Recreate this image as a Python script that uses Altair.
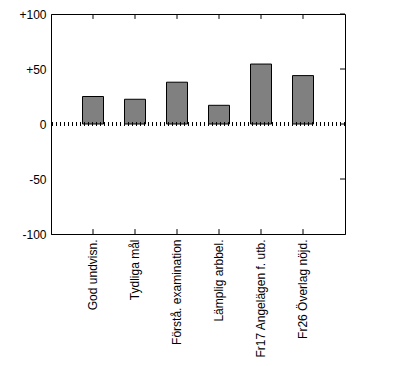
import altair as alt
import pandas as pd

categories = ["God undvisn.", "Tydliga mål", "Förstå. examination",
              "Lämplig arbbel.", "Fr17 Angelägen f. utb.", "Fr26 Överlag nöjd."]
values = [25, 22.5, 38, 17, 54.5, 44]
y_ticks = [-100, -50, 0, 50, 100]
right_ticks = [-50, 0, 50, 100]

df = pd.DataFrame({"cat": categories, "val": values})
df_r = pd.DataFrame({"v": right_ticks})

FONT = "Liberation Sans"
TICK = 4.5  # inward tick length in data units (~5 px)

xscale = alt.Scale(domain=categories, paddingInner=0.5, paddingOuter=0.75)
yscale = alt.Scale(domain=[-100, 100], nice=False, zero=False)

label_expr = "datum.value > 0 ? '+' + datum.value : '' + datum.value"

bars = alt.Chart(df).mark_bar(color="#808080", stroke="black", strokeWidth=1).encode(
    x=alt.X("cat:N", scale=xscale, sort=categories,
            axis=alt.Axis(title=None, labelAngle=270, labelAlign="right", labelBaseline="middle",
                          tickSize=0, labelPadding=5, domainColor="black", labelColor="black",
                          labelFont=FONT, labelFontSize=12, labelLimit=200)),
    y=alt.Y("val:Q", scale=yscale,
            axis=alt.Axis(title=None, values=y_ticks, labelExpr=label_expr, tickSize=0,
                          labelPadding=5, grid=False, domainColor="black", labelColor="black",
                          labelFont=FONT, labelFontSize=12)),
)

zero = alt.Chart(df).mark_rule(color="black", strokeWidth=3, strokeDash=[1, 3]).encode(
    y=alt.datum(0)
)

bottom_ticks = alt.Chart(df).mark_rule(color="black", strokeWidth=1).encode(
    x=alt.X("cat:N", sort=categories), y=alt.datum(-100), y2=alt.datum(-100 + TICK)
)
top_ticks = alt.Chart(df).mark_rule(color="black", strokeWidth=1).encode(
    x=alt.X("cat:N", sort=categories), y=alt.datum(100), y2=alt.datum(100 - TICK)
)
rticks = alt.Chart(df_r).mark_rule(color="black", strokeWidth=1).encode(
    y=alt.Y("v:Q"), x=alt.value(294), x2=alt.value(289)
)

chart = alt.layer(bars, zero, bottom_ticks, top_ticks, rticks).properties(
    width=294, height=220, background="white",
    padding={"left": 10, "top": 0, "right": 5, "bottom": 5}
).configure_view(stroke="black", strokeWidth=1)

chart.save("out.html", embed_options={"renderer": "svg", "actions": False})
